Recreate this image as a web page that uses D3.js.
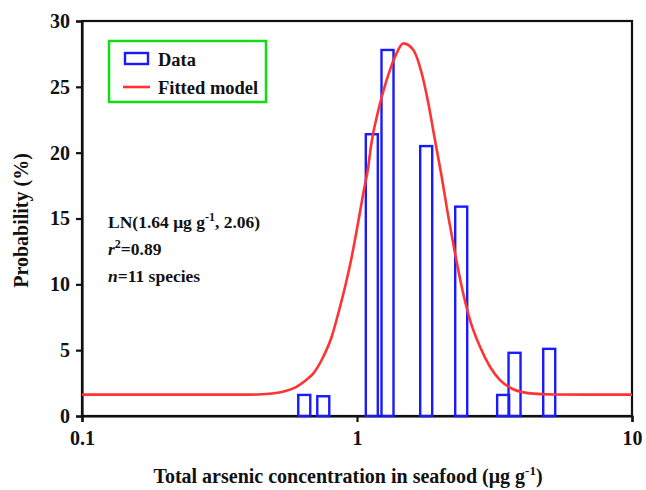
<!DOCTYPE html>
<html>
<head>
<meta charset="utf-8">
<script src="https://cdn.jsdelivr.net/npm/d3@7"></script>
<style>
body{margin:0;background:#fff;}
text{font-family:"Liberation Serif","Times New Roman",serif;font-weight:bold;fill:#111;}
</style>
</head>
<body>
<svg id="chart" width="646" height="490"></svg>
<script>
// 柱の中心濃度と確率(%)
var binCenters = [0.643, 0.754, 1.132, 1.291, 1.785, 2.393, 3.40, 3.74, 5.00];
var binProb = [1.6, 1.5, 21.4, 27.8, 20.5, 15.9, 1.6, 4.8, 5.1];
// 曲線（図から読んだ点）
var fitX = [0.1, 0.2, 0.3, 0.4, 0.45, 0.5, 0.55, 0.6, 0.65, 0.694, 0.754, 0.809, 0.855, 0.905, 0.957, 1.003, 1.054, 1.099, 1.124, 1.196, 1.282, 1.375, 1.474, 1.603, 1.719, 1.817, 1.921, 2.032, 2.148, 2.272, 2.403, 2.576, 2.801, 3.045, 3.311, 3.702, 4.256, 5.173, 7, 10];
var fitY = [1.62, 1.62, 1.62, 1.62, 1.65, 1.73, 1.9, 2.2, 2.7, 3.24, 4.50, 6.02, 7.80, 9.82, 12.10, 14.38, 16.91, 18.93, 20.5, 23.24, 25.52, 27.29, 28.3, 27.80, 26.03, 23.75, 20.96, 18.17, 15.14, 12.36, 9.82, 7.29, 5.26, 3.74, 2.73, 2.03, 1.72, 1.63, 1.62, 1.62];
var xTicks = [0.1, 1, 10];
var yTicks = [0, 5, 10, 15, 20, 25, 30];

var svg = d3.select('#chart');
var pL = 82, pR = 632, pT = 21, pB = 416;
var barW = 12;

var x = d3.scaleLog().domain([0.1, 10]).range([pL, pR]);
var y = d3.scaleLinear().domain([0, 30]).range([pB, pT]);

// 枠
svg.append("rect")
    .attr("x", pL).attr("y", pT)
    .attr("width", pR - pL).attr("height", pB - pT)
    .attr("fill", "none").attr("stroke", "#111").attr("stroke-width", 2.2);

// 軸
var yAxis = svg.append("g")
    .attr("transform", "translate(" + pL + ",0)")
    .call(d3.axisLeft(y).tickValues(yTicks).tickSize(6).tickPadding(6).tickFormat(d3.format("d")));
var xAxis = svg.append("g")
    .attr("transform", "translate(0," + pB + ")")
    .call(d3.axisBottom(x).tickValues(xTicks).tickSize(6).tickPadding(9).tickFormat(function(d){ return d; }));
[xAxis, yAxis].forEach(function(a){
    a.select(".domain").attr("stroke", "#111").attr("stroke-width", 2.2);
    a.selectAll(".tick line").attr("stroke", "#111").attr("stroke-width", 2.2);
    a.selectAll(".tick text").style("font-size", "20px").style("font-family", "Liberation Serif").attr("fill", "#111");
});

// 棒
var bins = binCenters.map(function(c, i){ return {c: c, p: binProb[i]}; });
svg.append("g").selectAll("rect")
    .data(bins)
    .enter().append("rect")
    .attr("x", function(d){ return x(d.c) - barW / 2; })
    .attr("y", function(d){ return y(d.p); })
    .attr("width", barW)
    .attr("height", function(d){ return y(0) - y(d.p); })
    .attr("fill", "none")
    .attr("stroke", "#1a1aff")
    .attr("stroke-width", 2.4);

// 曲線
var line = d3.line()
    .x(function(d){ return x(d[0]); })
    .y(function(d){ return y(d[1]); })
    .curve(d3.curveMonotoneX);
svg.append("path")
    .datum(fitX.map(function(v, i){ return [v, fitY[i]]; }))
    .attr("d", line)
    .attr("fill", "none")
    .attr("stroke", "#ff3333")
    .attr("stroke-width", 2.6);

// 凡例
var lg = svg.append("g");
lg.append("rect").attr("x", 109).attr("y", 41).attr("width", 157).attr("height", 61)
    .attr("fill", "none").attr("stroke", "#11dd11").attr("stroke-width", 2.5);
lg.append("rect").attr("x", 125).attr("y", 53).attr("width", 23).attr("height", 11)
    .attr("fill", "none").attr("stroke", "#1a1aff").attr("stroke-width", 2.4);
lg.append("line").attr("x1", 123).attr("x2", 150).attr("y1", 87).attr("y2", 87)
    .attr("stroke", "#ff3333").attr("stroke-width", 2.6);
lg.append("text").attr("x", 158).attr("y", 66).style("font-size", "18.5px").text("Data");
lg.append("text").attr("x", 158).attr("y", 94).style("font-size", "18.5px").text("Fitted model");

// 注記
var an = svg.append("g").style("font-size", "17.5px");
var t1 = an.append("text").attr("x", 108).attr("y", 228);
t1.append("tspan").text("LN(1.64 μg g");
t1.append("tspan").attr("dy", -7).style("font-size", "12px").text("-1");
t1.append("tspan").attr("dy", 7).text(", 2.06)");
var t2 = an.append("text").attr("x", 108).attr("y", 255);
t2.append("tspan").style("font-style", "italic").text("r");
t2.append("tspan").attr("dy", -7).style("font-size", "12px").text("2");
t2.append("tspan").attr("dy", 7).text("=0.89");
var t3 = an.append("text").attr("x", 108).attr("y", 282);
t3.append("tspan").style("font-style", "italic").text("n");
t3.append("tspan").text("=11 species");

// 軸ラベル
svg.append("text")
    .attr("transform", "translate(28," + ((pT + pB) / 2 + 2) + ") rotate(-90)")
    .attr("text-anchor", "middle")
    .style("font-size", "20px")
    .text("Probability (%)");
var xl = svg.append("text")
    .attr("x", 348).attr("y", 483)
    .attr("text-anchor", "middle")
    .style("font-size", "20px");
xl.append("tspan").text("Total arsenic concentration in seafood (μg g");
xl.append("tspan").attr("dy", -8).style("font-size", "13px").text("-1");
xl.append("tspan").attr("dy", 8).text(")");
</script>
</body>
</html>
